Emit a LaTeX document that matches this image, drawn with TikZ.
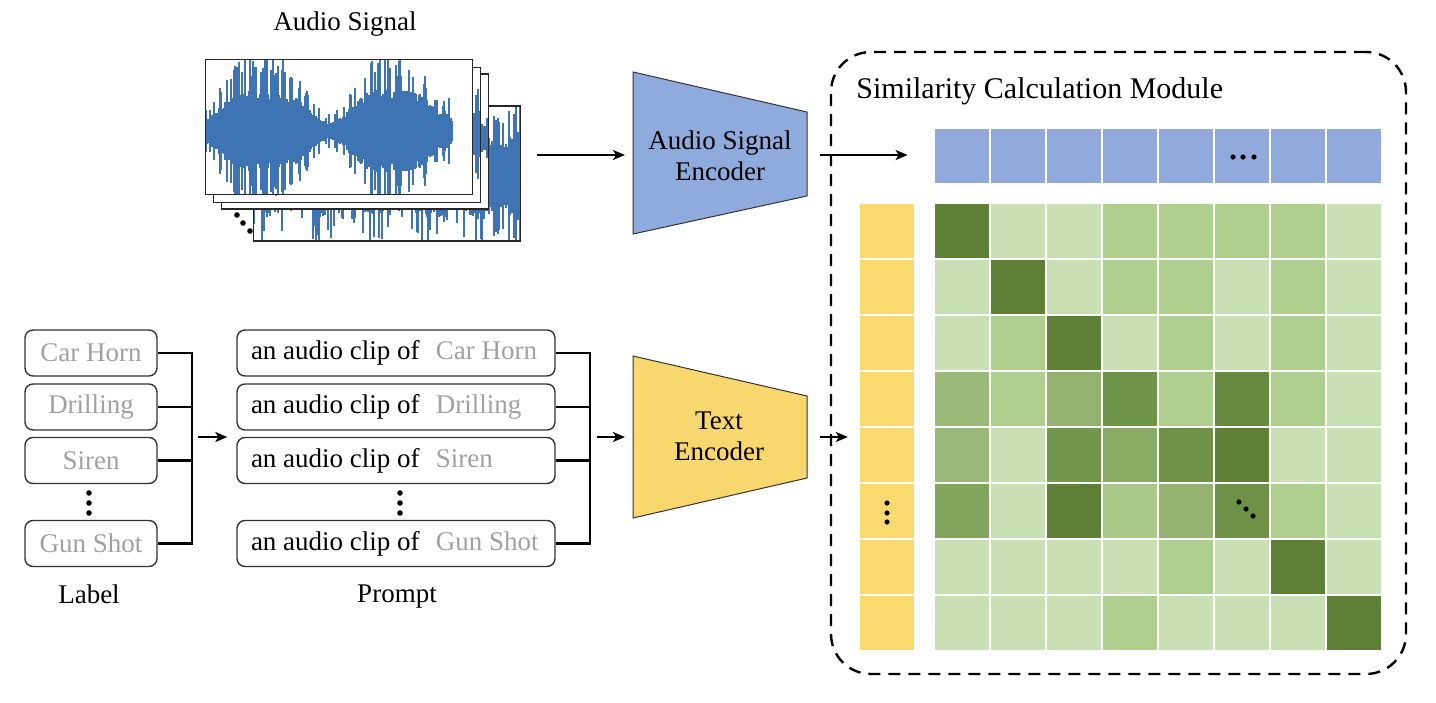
\documentclass[tikz,border=0pt]{standalone}
\usepackage{fontspec}
\setmainfont{Liberation Serif}
\usetikzlibrary{arrows.meta,positioning,calc}
\definecolor{encblue}{HTML}{8FAADC}
\definecolor{encyellow}{HTML}{F9D76F}
\definecolor{rowblue}{HTML}{91A9DB}
\definecolor{colyellow}{HTML}{FAD96F}
\definecolor{wavecol}{HTML}{3F74B4}
\definecolor{labelgray}{HTML}{A0A0A0}
\definecolor{gL}{HTML}{C9E0B4}
\definecolor{gM}{HTML}{AFCF8F}
\definecolor{gD}{HTML}{5E8037}
\definecolor{gA}{HTML}{9AB877}
\definecolor{gB}{HTML}{93B26F}
\definecolor{gC}{HTML}{6E944A}
\definecolor{gE}{HTML}{668A40}
\definecolor{gF}{HTML}{72964B}
\definecolor{gG}{HTML}{88AB64}
\definecolor{gH}{HTML}{6C9147}
\definecolor{gI}{HTML}{82A55E}
\definecolor{gJ}{HTML}{A8C988}

% one vertical stroke per pixel column: #1 from, #2 to, #3 centre line, #4 envelope
\newcommand{\drawwave}[4]{%
  \foreach \x in {#1,...,#2}{%
    \pgfmathsetmacro\amp{(#4)*(0.8+0.3*rnd)*((rnd>0.72) ? 1.8 : 1)}%
    \draw[wavecol, line width=0.7pt] ({\x},{#3-\amp}) -- ({\x},{#3+\amp});
  }}

\begin{document}
\begin{tikzpicture}[
  x=0.5pt, y=-0.5pt,
  every node/.style={font=\fontsize{13.5pt}{15.5pt}\selectfont},
  frame/.style={fill=white, minimum width=133pt, minimum height=67pt, inner sep=0pt},
  frameline/.style={draw=black!85, line width=0.75pt},
  labelbox/.style={draw=black!80, line width=0.7pt, rounded corners=4pt, minimum width=66pt, minimum height=23pt, inner sep=0pt, text=labelgray},
  promptbox/.style={draw=black!80, line width=0.7pt, rounded corners=4pt, minimum width=159pt, minimum height=23pt, inner sep=0pt},
  encoder/.style={draw=black!80, line width=0.5pt},
  enctext/.style={align=center},
  bracket/.style={line width=1.3pt},
  arr/.style={line width=1pt, -{Stealth[length=6pt,width=5pt,inset=1.5pt]}},
  module/.style={draw, dash pattern=on 6pt off 4pt, line width=1.2pt, rounded corners=20pt, minimum width=287.5pt, minimum height=311pt},
  cell/.style={minimum width=26.75pt, minimum height=27pt, inner sep=0pt}
]
  \useasboundingbox (0,0) rectangle (1436,702);
  \pgfmathsetseed{11}

  % audio clips
  \node (atitle) at (345,24) {Audio Signal};
  \node[frame] (w4) at (387,173.5) {};
  \begin{scope}
    \clip (w4.south west) rectangle (w4.north east);
    \drawwave{254}{520}{176}{30+8*sin(\x*7)+10*exp(-(((\x-505)/25)^2))}
  \end{scope}
  \draw[frameline] (w4.south west) rectangle (w4.north east);
  \node[frame] (w3) at (355,141.5) {};
  \begin{scope}
    \clip (w3.south west) rectangle (w3.north east);
    \drawwave{222}{487}{138}{22+10*sin(\x*2)}
  \end{scope}
  \draw[frameline] (w3.south west) rectangle (w3.north east);
  \node[frame] (w2) at (347,135) {};
  \begin{scope}
    \clip (w2.south west) rectangle (w2.north east);
    \drawwave{214}{479}{134}{24+8*sin(\x*3)}
  \end{scope}
  \draw[frameline] (w2.south west) rectangle (w2.north east);
  \node[frame] (w1) at (339,127) {};
  \begin{scope}
    \clip (w1.south west) rectangle (w1.north east);
    \drawwave{206}{452}{131}{7+30*exp(-(((\x-263)/48)^4))+31*exp(-(((\x-392)/45)^4))+10*exp(-(((\x-447)/4)^2))}
  \end{scope}
  \draw[frameline] (w1.south west) rectangle (w1.north east);
  \foreach \p in {(237,215),(243,223),(250,231)} \fill \p circle[radius=1.4pt];

  % labels
  \node[labelbox] (l1) at (91,353) {Car Horn};
  \node[labelbox] (l2) at (91,407) {Drilling};
  \node[labelbox] (l3) at (91,460.5) {Siren};
  \node[labelbox] (l4) at (91,543.5) {Gun Shot};
  \foreach \y in {493,503,513} \fill (89,\y) circle[radius=1.4pt];
  \node (ltitle) at (89,594) {Label};

  % prompts
  \node[promptbox] (p1) at (396,353) {\makebox[145pt][l]{an audio clip of\hspace{.6em}\textcolor{labelgray}{Car Horn}}};
  \node[promptbox] (p2) at (396,407) {\makebox[145pt][l]{an audio clip of\hspace{.6em}\textcolor{labelgray}{Drilling}}};
  \node[promptbox] (p3) at (396,460.5) {\makebox[145pt][l]{an audio clip of\hspace{.6em}\textcolor{labelgray}{Siren}}};
  \node[promptbox] (p4) at (396,543.5) {\makebox[145pt][l]{an audio clip of\hspace{.6em}\textcolor{labelgray}{Gun Shot}}};
  \foreach \y in {493,503,513} \fill (400,\y) circle[radius=1.4pt];
  \node (ptitle) at (397,597) {Prompt};

  % brackets
  \coordinate (lbar) at (192,437);
  \coordinate (pbar) at (590,437);
  \draw[bracket] (l1.east) -- (l1.east -| lbar) -- (l4.east -| lbar) -- (l4.east);
  \draw[bracket] (l2.east) -- (l2.east -| lbar);
  \draw[bracket] (l3.east) -- (l3.east -| lbar);
  \draw[bracket] (p1.east) -- (p1.east -| pbar) -- (p4.east -| pbar) -- (p4.east);
  \draw[bracket] (p2.east) -- (p2.east -| pbar);
  \draw[bracket] (p3.east) -- (p3.east -| pbar);

  % encoders
  \draw[encoder, fill=encblue] (633,72) -- (807,112) -- (807,196) -- (633,234) -- cycle;
  \node[enctext] (aenc) at (720,156) {Audio Signal\\Encoder};
  \coordinate (aenc-w) at (633,155);
  \coordinate (aenc-e) at (807,155);
  \draw[encoder, fill=encyellow] (633,356) -- (807,396) -- (807,478) -- (633,518) -- cycle;
  \node[enctext] (tenc) at (719,436) {Text\\Encoder};
  \coordinate (tenc-w) at (633,437);
  \coordinate (tenc-e) at (807,437);

  % similarity module
  \node[module] (sim) at (1118.5,363) {};
  \node[inner sep=0pt, anchor=west, font=\fontsize{15pt}{18pt}\selectfont] (simtitle) at (856,91) {Similarity Calculation Module};
  \foreach \c in {1,...,8}
    \node[cell, fill=rowblue] (a\c) at ({961.75+56*(\c-1)},156) {};
  \foreach \r in {1,...,8}
    \node[cell, fill=colyellow] (t\r) at (887,{231+56*(\r-1)}) {};
  \foreach \rowcols [count=\r] in {
      {gD,gL,gL,gM,gM,gM,gM,gL},
      {gL,gD,gL,gM,gM,gL,gM,gL},
      {gL,gM,gD,gL,gM,gL,gM,gL},
      {gA,gM,gB,gC,gM,gE,gM,gL},
      {gA,gL,gF,gG,gH,gD,gL,gL},
      {gI,gL,gD,gJ,gB,gH,gM,gL},
      {gL,gL,gL,gL,gM,gL,gD,gL},
      {gL,gL,gL,gM,gL,gL,gL,gD}}{
    \foreach \col [count=\c] in \rowcols
      \node[cell, fill=\col] (m-\r-\c) at ({961.75+56*(\c-1)},{231+56*(\r-1)}) {};
  }
  \foreach \xx in {1233,1243,1254} \fill (\xx,157) circle[radius=1.3pt];
  \foreach \y in {503,513,522} \fill (887,\y) circle[radius=1.3pt];
  \foreach \p in {(1239,502),(1246,509),(1253,516)} \fill \p circle[radius=1.3pt];

  % connectors
  \draw[arr, shorten <=3pt, shorten >=4.5pt] (lbar) -- (lbar -| p1.west);
  \draw[arr, shorten <=3.5pt, shorten >=4pt] (pbar) -- (tenc-w);
  \draw[arr, shorten <=8.5pt, shorten >=4pt] (w4.east |- aenc-w) -- (aenc-w);
  \draw[arr, shorten <=6.5pt, shorten >=13.5pt] (aenc-e) -- (aenc-e -| a1.west);
  \draw[arr, shorten <=6.5pt, shorten >=6pt] (tenc-e) -- (tenc-e -| t1.west);
\end{tikzpicture}
\end{document}
